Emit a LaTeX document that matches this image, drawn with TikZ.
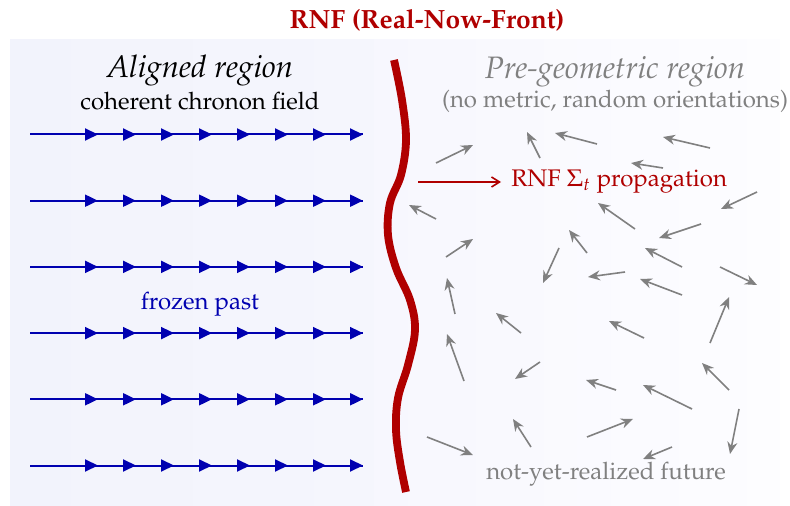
\documentclass[tikz,border=0pt]{standalone}
\usepackage[T1]{fontenc}
\usepackage{mathpazo}
\usetikzlibrary{arrows.meta}

\definecolor{rnfred}{RGB}{176,0,0}
\definecolor{fieldblue}{RGB}{0,0,176}
\definecolor{randgray}{RGB}{128,128,128}
\definecolor{pastbg}{RGB}{242,243,252}
\definecolor{pastbgR}{RGB}{245,246,253}
\definecolor{futbgL}{RGB}{247,247,254}
\definecolor{futbgR}{RGB}{253,253,255}

\tikzset{
  fieldline/.style={draw=fieldblue, line width=1pt},
  fieldtip/.style={fieldblue, line width=1pt, -{Triangle[length=6.5pt,width=6pt]}},
  randarrow/.style={draw=randgray, line width=0.8pt, -{Stealth[length=6pt,width=5pt]}},
  front/.style={draw=rnfred, line width=3.9pt, line cap=butt},
  proparrow/.style={draw=rnfred, line width=0.8pt, -{Straight Barb[length=4pt,width=5pt]}},
  normaltext/.style={font=\fontsize{12}{14}\selectfont, inner sep=0pt},
  headtext/.style={font=\fontsize{15.5}{18}\selectfont\itshape, inner sep=0pt},
  titletext/.style={font=\fontsize{13.2}{16}\selectfont\bfseries, inner sep=0pt},
}

\begin{document}
\begin{tikzpicture}[x=0.5pt, y=-0.5pt]
  \useasboundingbox (0,0) rectangle (790,506);

  % backgrounds of the two regions
  \shade[left color=pastbg, right color=pastbgR] (10,40) rectangle (374,506);
  \shade[left color=futbgL, right color=futbgR] (374,40) rectangle (780,506);

  % title
  \node[titletext, text=rnfred, anchor=base] (title) at (427,29) {RNF (Real-Now-Front)};

  % aligned region labels
  \node[headtext, anchor=base] (alignedhead) at (200,78) {Aligned region};
  \node[normaltext, anchor=base] (alignedsub) at (200,110) {coherent chronon field};
  \node[normaltext, text=fieldblue, anchor=base] (frozen) at (200,310) {frozen past};

  % coherent field lines with repeated arrowheads
  \foreach \y [count=\r] in {134.5,200.7,266.9,333.1,399.3,465.5}{
    \coordinate (row\r s) at (30,\y);
    \coordinate (row\r e) at (363,\y);
    \draw[fieldline] (row\r s) -- (row\r e);
    \foreach \x in {98,136,174,212,250,288,326,363}{
      \draw[fieldtip] (\x-10,\y) -- (\x,\y);
    }
  }

  % the real-now-front
  \draw[front] plot[smooth, tension=0.6] coordinates {
    (394,60) (402,100) (406,140) (401,175) (390,203) (388,235)
    (396,268) (410,300) (415,330) (408,365) (398,398) (396,430)
    (400,462) (406,492)};

  % pre-geometric region labels
  \node[headtext, text=randgray, anchor=base] (pregeo) at (615,79) {Pre-geometric region};
  \node[normaltext, text=randgray, anchor=base] (pregeosub) at (615,108) {(no metric, random orientations)};
  \node[normaltext, text=randgray, anchor=base] (future) at (606,479) {not-yet-realized future};

  % propagation label and arrow
  \node[normaltext, text=rnfred, anchor=base west] (prop) at (511,187) {RNF $\Sigma_t$ propagation};
  \coordinate (propstart) at (418,182);
  \coordinate (propend) at (501,182);
  \draw[proparrow] (propstart) -- (propend);

  % randomly oriented chronons
  \foreach \sx/\sy/\tx/\ty in {
    436/163/473/145, 540/158/527/132, 597/144/555/133, 710/148/663/137,
    663/168/631/163, 757/192/721/209, 436/219/409/205, 635/229/598/203,
    701/224/659/238, 446/257/473/239, 559/248/543/283, 587/253/569/230,
    682/267/645/248, 625/272/588/277, 682/295/640/279, 720/267/757/285,
    455/314/447/278, 521/333/496/313, 644/338/609/321, 710/343/729/297,
    464/381/447/334, 540/362/515/379, 616/390/586/380, 692/409/643/385,
    729/390/702/363, 739/409/730/454, 427/437/473/455, 531/447/513/419,
    587/437/633/419, 672/447/643/459}{
    \draw[randarrow] (\sx,\sy) -- (\tx,\ty);
  }
\end{tikzpicture}
\end{document}
